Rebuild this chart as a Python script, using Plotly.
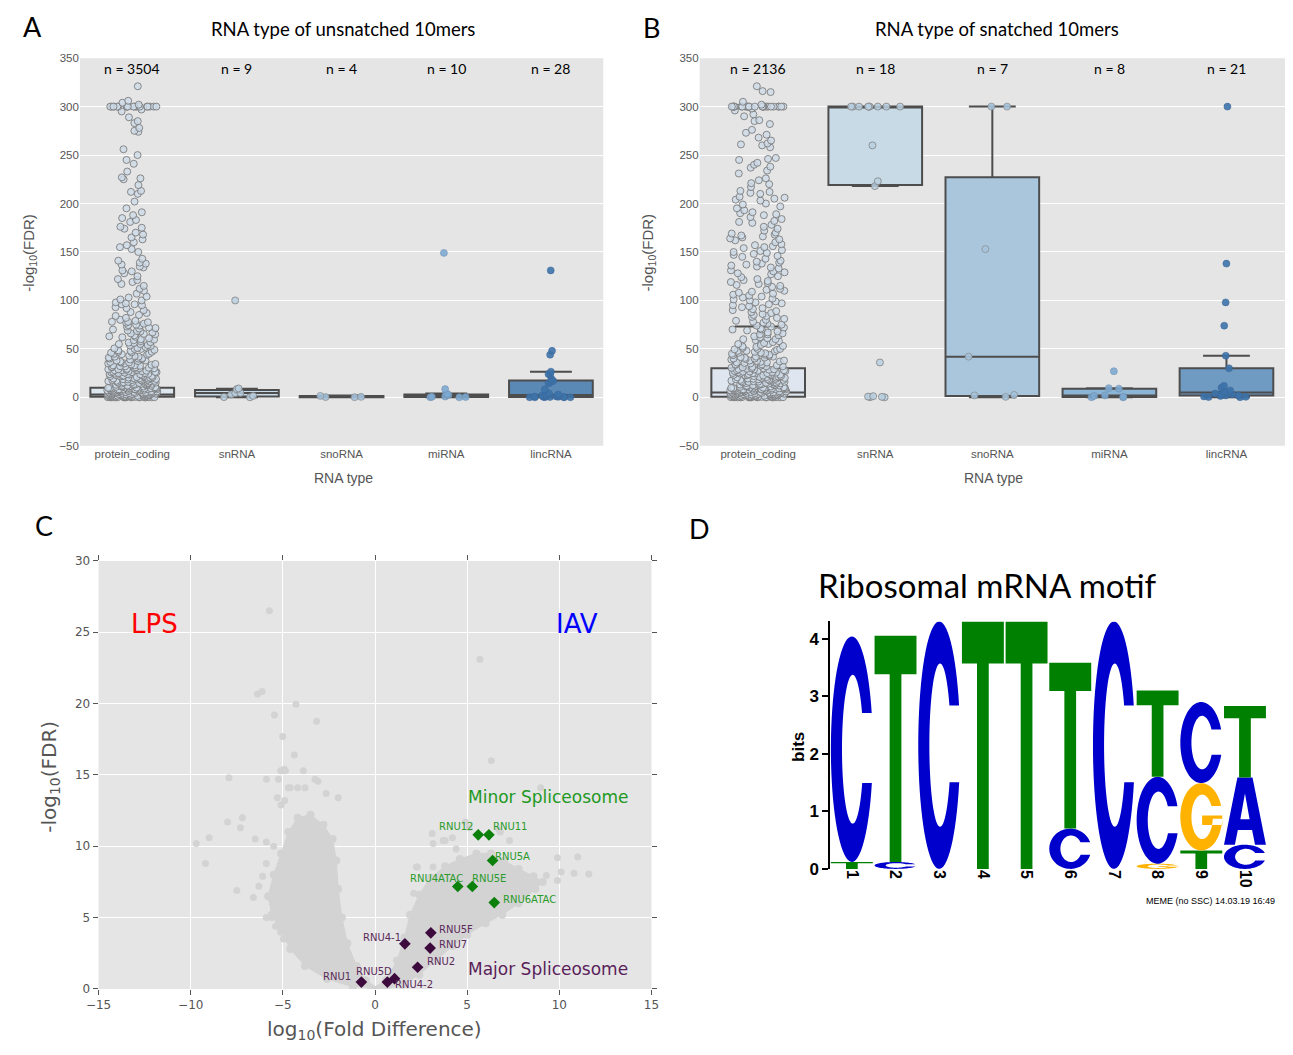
import math
import plotly.graph_objects as go

W, H = 1293, 1055

# ---------------- DATA ----------------
categories = ["protein_coding", "snRNA", "snoRNA", "miRNA", "lincRNA"]
n_unsnatched = [3504, 9, 4, 10, 28]
n_snatched = [2136, 18, 7, 8, 21]

# Panel A box statistics
a_q1 = [0.5, 1.0, 0.0, 0.3, 0.3]
a_median = [3.0, 4.5, 1.0, 1.5, 2.5]
a_q3 = [10.0, 7.5, 1.5, 3.0, 17.5]
a_lower = [0.0, 0.0, 0.0, 0.0, 0.0]
a_upper = [25.0, 9.0, 2.0, 4.0, 26.5]

# Panel B box statistics
b_q1 = [0.5, 219.0, 1.5, 0.3, 2.0]
b_median = [5.0, 300.0, 42.0, 2.0, 5.0]
b_q3 = [30.0, 300.0, 227.0, 9.0, 30.0]
b_lower = [0.0, 218.0, 0.0, 0.0, 0.0]
b_upper = [73.0, 300.0, 300.0, 9.5, 43.0]

# Panel A points
a_pc_high = [321, 306, 304, 302, 300, 300, 300, 300, 300, 300, 300, 300, 300, 300, 300, 300, 300, 300,
             300, 300, 300, 300, 297, 295, 289, 285, 283, 278, 275, 274, 256, 250, 245, 241, 233, 227,
             226, 225, 219, 213, 212, 210, 202, 195, 191, 188, 185, 183, 181, 176, 175, 174, 170, 168,
             165, 163, 160, 157, 155, 153, 150, 143, 141, 139, 138, 137, 135, 134, 131, 130, 128, 125,
             122, 121, 119, 117, 115, 112, 110, 107, 104, 103, 101, 100]
a_pc_low = [98, 97, 96, 96, 95, 93, 92, 90, 88, 87, 85, 84, 82, 80, 79, 78, 78, 77, 76, 75, 74, 73, 72,
            71, 70, 69, 68, 67, 66, 65, 64, 63, 62, 61, 60, 59, 58, 57, 56, 55, 55, 54, 53, 52, 51, 50,
            50, 49, 48, 47, 47, 46, 45, 45, 44, 43, 42, 42, 41, 40, 40, 39, 38, 38, 37, 36, 36, 35, 35,
            34, 33, 33, 32, 31, 31, 30, 30, 29, 29, 28, 28, 27, 27, 26, 26, 25, 25, 24, 24, 23, 23, 22,
            22, 21, 21, 20, 20, 19, 19, 18, 18, 17, 17, 16, 16, 15, 15, 14, 14, 13, 13, 12, 12, 11, 11,
            10, 10, 9.5, 9, 9, 8.5, 8, 8, 7.5, 7, 7, 6.5, 6, 6, 5.5, 5, 5, 4.5, 4, 4, 3.5, 3, 3, 2.5,
            2, 2, 1.5, 1, 1, 0.5, 0.5, 0.2, 0.1, 0, 0, 0, 0, 0.3, 0.8, 1.2, 1.8, 2.2, 2.8, 3.3, 3.8,
            4.2, 4.8, 5.2, 5.8, 6.2, 6.8, 7.2, 7.8, 8.2, 8.8, 9.2, 9.8, 10.5, 11.5, 12.5, 13.5, 14.5,
            15.5, 16.5, 17.5, 18.5, 19.5, 21.5, 23.5, 25.5]
a_pc_dense = [77.5, 74.5, 71.5, 68.5, 65.5, 62.5, 59.5, 56.5, 53.5, 50.5, 48.5, 46.5, 44.5, 42.5, 40.5,
              39.5, 37.5, 36.5, 34.5, 33.5, 32.5, 31.5, 30.5, 29.5, 28.5, 27.5, 26.5, 25.8, 24.5, 23.8,
              22.5, 21.8, 20.5, 19.8, 18.8, 17.8, 16.8, 15.8, 14.8, 13.8, 12.8, 11.8, 10.8, 10.2, 9.6,
              9.1, 8.6, 8.1, 7.6, 7.1, 6.6, 6.1, 5.6, 5.1, 4.6, 4.1, 3.6, 3.1, 2.6, 2.1, 1.6, 1.1, 0.6,
              0.4, 0.2, 0.1, 0, 0, 0, 0, 0, 0, 0.05, 0.15, 0.25, 0.35, 0.45, 0.7, 0.9, 1.3, 1.7, 2.3,
              2.7, 3.2, 3.7, 4.3, 4.7, 5.3, 5.7, 6.3, 6.7, 7.3, 7.7, 8.3, 8.7, 9.3, 9.7, 11.2, 12.2,
              13.2, 14.2, 15.2, 16.2, 17.2, 18.2, 19.2, 20.2, 22.2, 24.2, 26.2, 28.2, 30.2, 32.2]
a_snrna = [100, 8.4, 9.2, 4.6, 4.3, 3.0, 0.1, 0.3, 1.5]
a_snorna = [0.2, 1.5, 0.5, 0.3]
a_mirna = [149, 8.5, 0.2, 0.5, 2.5, 3.0, 3.5, 0.8, 0.3, 0.1]
a_lincrna = [131, 48, 44, 26.5, 24, 23, 19, 17, 16, 14.5, 8, 4, 3, 2.5, 2, 1.5, 1.2, 1, 0.8, 0.6,
             0.5, 0.4, 0.3, 0.2, 0.1, 0.1, 0, 0]

# Panel B points
b_pc_high = [321, 316, 315, 305, 302, 300, 300, 300, 300, 300, 300, 300, 300, 300, 300, 300, 300, 300,
             300, 300, 300, 300, 300, 300, 300, 300, 300, 300, 300, 300, 298, 296, 292, 290, 286, 285,
             282, 276, 273, 271, 268, 265, 262, 261, 260, 258, 247, 246, 245, 242, 240, 238, 237, 234,
             231, 226, 224, 221, 220, 217, 213, 212, 211, 210, 207, 206, 205, 204, 203, 200, 199, 197,
             195, 193, 191, 190, 189, 188, 186, 184, 182, 181, 180, 178, 176, 174, 172, 170, 169, 168,
             167, 166, 165, 164, 163, 162, 160, 158, 157, 156, 155, 154, 152, 151, 150, 149, 148, 147,
             146, 145, 143, 141, 140, 139, 138, 137, 136, 135, 134, 133, 131, 130, 129, 128, 127, 125,
             124, 122, 121, 120, 119, 118, 117, 116, 115, 114, 112, 111, 110, 109, 108, 107, 106, 105,
             104, 103, 102, 101, 100]
b_pc_low = [99, 98, 97, 96, 95, 94, 93, 92, 91, 90, 89, 88, 87, 86, 85, 84, 83, 82, 81, 80, 79, 78, 77,
            76, 75, 74, 73, 72, 71, 70, 70, 69, 68, 67, 66, 65, 65, 64, 63, 62, 61, 60, 60, 59, 58, 57,
            56, 55, 55, 54, 53, 52, 51, 50, 50, 49, 48, 48, 47, 46, 46, 45, 44, 44, 43, 42, 42, 41, 40,
            40, 39, 38, 38, 37, 36, 36, 35, 34, 34, 33, 32, 32, 31, 30, 30, 29, 28, 28, 27, 26, 26, 25,
            25, 24, 24, 23, 23, 22, 22, 21, 21, 20, 20, 19, 19, 18, 18, 17, 17, 16, 16, 15, 15, 14, 14,
            13, 13, 12, 12, 11, 11, 10, 10, 9.5, 9, 9, 8.5, 8, 8, 7.5, 7, 7, 6.5, 6, 6, 5.5, 5, 5, 4.5,
            4, 4, 3.5, 3, 3, 2.5, 2, 2, 1.5, 1, 1, 0.5, 0.5, 0.2, 0.1, 0, 0, 0, 0, 0.3, 0.8, 1.2, 1.8,
            2.2, 2.8, 3.3, 3.8, 4.2, 4.8, 5.2, 5.8, 6.2, 6.8, 7.2, 7.8, 8.2, 8.8, 9.2, 9.8, 10.5, 11.5,
            12.5, 13.5, 14.5, 15.5, 16.5, 17.5, 18.5, 19.5, 21.5, 23.5, 25.5, 27.5, 29.5]
b_pc_dense = [52.5, 49.5, 47.5, 45.5, 43.5, 41.5, 39.5, 37.5, 35.5, 33.5, 31.5, 30.5, 29.2, 28.5, 27.2,
              26.5, 25.2, 24.5, 23.2, 22.5, 21.2, 20.5, 19.2, 18.2, 17.2, 16.2, 15.2, 14.2, 13.2, 12.2,
              11.2, 10.8, 10.2, 9.6, 9.1, 8.6, 8.1, 7.6, 7.1, 6.6, 6.1, 5.6, 5.1, 4.6, 4.1, 3.6, 3.1,
              2.6, 2.1, 1.6, 1.1, 0.6, 0.4, 0.2, 0.1, 0, 0, 0, 0, 0, 0, 0.05, 0.15, 0.25, 0.35, 0.45,
              0.7, 0.9, 1.3, 1.7, 2.3, 2.7, 3.2, 3.7, 4.3, 4.7, 5.3, 5.7, 6.3, 6.7, 7.3, 7.7, 8.3, 8.7,
              9.3, 9.7, 12.7, 14.7, 16.7, 18.7, 20.7, 22.7, 24.7, 26.7, 28.7, 32.7, 36.7, 40.7]
b_snrna = [300, 300, 300, 300, 300, 300, 300, 300, 300, 260, 223, 218, 36, 1.2, 0.5, 0.8, 0.2, 0.0]
b_snorna = [300, 300, 153, 42, 2.0, 2.5, 0.5]
b_mirna = [27, 9, 9.5, 2, 1.5, 0.5, 0.2, 0.0]
b_lincrna = [300, 138, 98, 74, 43, 30, 12, 10, 7, 6, 5, 4, 3, 3, 2, 2, 1.5, 1, 0.5, 0.3, 0.2]

# Panel C: volcano plot
cloud_left_x = [0.2, -0.5, -1.0, -1.5, -1.8, -2.0, -2.1, -2.3, -2.8, -3.5, -4.2, -4.7, -5.1, -5.5, -5.8,
                -5.6, -5.1, -4.6, -3.8, -2.6, -1.2]
cloud_left_y = [0.0, 0.6, 1.6, 3.2, 5.0, 7.0, 9.0, 10.5, 11.5, 12.2, 12.0, 11.0, 9.5, 8.0, 6.5,
                5.2, 4.0, 2.8, 1.6, 0.7, 0.15]
cloud_right_x = [-0.2, 0.6, 1.2, 1.6, 1.9, 2.4, 3.0, 3.8, 4.6, 5.5, 6.3, 7.0, 7.8, 8.6, 9.1, 8.7, 7.8,
                 6.9, 6.0, 5.0, 4.2, 3.3, 2.4, 1.5, 0.6]
cloud_right_y = [0.0, 0.6, 2.0, 3.6, 5.2, 6.6, 7.8, 8.6, 9.1, 9.5, 9.5, 9.0, 8.4, 7.9, 7.5, 7.0, 6.0,
                 5.2, 4.6, 3.8, 3.0, 2.0, 1.0, 0.3, 0.0]
scatter_x = [-5.73, -6.13, -6.38, -4.29, -5.46, -3.17, -5.01, -4.38, 5.69, 6.31, -7.93, -5.89, -5.24, -5.12,
             -4.92, -3.89, -3.26, -3.10, 8.99, -4.96, -4.86, -4.7, -4.6, -4.2, -3.8, -2.65, -2.0, -5.3,
             -5.1, -4.9, -8.0, -7.2, -7.3, -9.7, -9.0, -9.2, -6.5, -5.9, -5.5, -7.5, -6.6, -6.3, -6.1,
             -5.9, -5.9, -5.6, -5.4, -4.97, 3.1, 3.15, 4.2, 3.7, 2.25, 3.15, 2.1, 3.8, 4.4, 5.1, 4.9, 7.3,
             6.8, 6.7, 5.7, 5.4, 9.9, 11.0, 10.1, 10.8, 11.6, 9.3, 9.9, 2.3]
scatter_y = [26.5, 20.85, 20.67, 19.95, 19.2, 18.76, 17.7, 16.4, 23.1, 16.0, 14.8, 14.7, 14.7, 15.3,
             15.4, 15.3, 14.7, 14.55, 14.1, 15.3, 15.3, 14.1, 14.1, 14.1, 14.1, 13.7, 13.4, 13.4, 12.9,
             13.2, 11.7, 12.0, 11.3, 10.2, 10.6, 8.8, 10.5, 10.3, 10.0, 6.9, 6.4, 7.2, 7.9, 8.8, 5.0, 5.0,
             4.4, 3.5, 10.9, 10.2, 10.6, 10.4, 8.55, 8.55, 6.7, 10.4, 9.8, 11.3, 11.7, 10.4, 11.0, 11.2,
             9.3, 9.2, 9.2, 9.25, 8.2, 8.1, 8.05, 7.95, 7.6, 8.55]
minor_names = ["RNU12", "RNU11", "RNU5A", "RNU4ATAC", "RNU5E", "RNU6ATAC"]
minor_x = [5.6, 6.18, 6.38, 4.49, 5.28, 6.47]
minor_y = [10.8, 10.8, 9.0, 7.18, 7.18, 6.05]
major_names = ["RNU5F", "RNU7", "RNU4-1", "RNU2", "RNU1", "RNU5D", "RNU4-2"]
major_x = [3.03, 2.99, 1.62, 2.31, -0.74, 0.67, 1.06]
major_y = [3.93, 2.86, 3.16, 1.52, 0.48, 0.48, 0.72]

# Panel D: sequence logo (letters bottom -> top, heights in bits)
logo_positions = [1, 2, 3, 4, 5, 6, 7, 8, 9, 10]
logo_letters = [["T", "C"], ["C", "T"], ["C"], ["T"], ["T"], ["C", "T"], ["C"], ["G", "C", "T"],
                ["T", "G", "C"], ["C", "A", "T"]]
logo_heights = [[0.12, 3.92], [0.12, 3.93], [4.3], [4.3], [4.3], [0.7, 2.88], [4.3], [0.09, 1.51, 1.5],
                [0.32, 1.17, 1.41], [0.42, 1.17, 1.24]]

# ---------------- STYLE ----------------
BG = "#e5e5e5"
GREY_TXT = "#555555"
CAL = "Lato, Open Sans, sans-serif"
TICKF = "Liberation Sans, Arial, sans-serif"
a_box_colors = ["#dde5ee", "#c9dbe8", "#aac6dc", "#8fb4d3", "#5a89b6"]
b_box_colors = ["#dfe6ef", "#c8dae6", "#a9c6dc", "#8cb4d4", "#6f9bc3"]
pt_colors = ["rgba(205,219,232,0.8)", "rgba(185,208,226,0.85)", "rgba(165,195,220,0.9)",
             "rgba(125,170,210,0.9)", "rgba(60,115,170,0.9)"]
pt_lines = ["rgba(120,120,120,0.85)", "rgba(130,130,130,0.8)", "rgba(130,130,130,0.6)",
            "rgba(110,140,170,0.5)", "rgba(60,100,150,0.5)"]
letter_colors = {"C": "#0000CC", "T": "#008000", "G": "#FFB300", "A": "#0000CC"}
minor_dx = [-22, 21, 20, -21, 17, 35]
minor_dy = [8, 8, 4, 8, 8, 3]
major_dx = [25, 23, -23, 23, -24, -13, 19]
major_dy = [3, 4, 6, 6, 6, 11, -6]

fig = go.Figure()

def px2fx(px):
    return px / W

def py2fy(py):
    return 1 - py / H

dom = {
    "A": ([68 / W, 600 / W], [py2fy(446), py2fy(52)]),
    "B": ([698 / W, 1.0], [py2fy(446), py2fy(52)]),
    "C": ([87 / W, 649 / W], [py2fy(998), py2fy(563)]),
    "D": ([830.5 / W, 1274.5 / W], [py2fy(876), py2fy(624.5)]),
}

def add_box_panel(xa, ya, q1, med, q3, lo, up, box_cols, point_sets):
    for i, cat in enumerate(categories):
        fig.add_trace(go.Box(
            x=[cat], q1=[q1[i]], median=[med[i]], q3=[q3[i]], lowerfence=[lo[i]], upperfence=[up[i]],
            xaxis=xa, yaxis=ya, fillcolor=box_cols[i], line=dict(color="#4d4d4d", width=2),
            width=0.8, whiskerwidth=0.5, boxpoints=False, showlegend=False, hoverinfo="skip"))
    for i, cat in enumerate(categories):
        vals = point_sets[i]
        fig.add_trace(go.Box(
            x=[cat] * len(vals), y=vals, xaxis=xa, yaxis=ya, boxpoints="all", jitter=0.6, pointpos=0,
            width=0.8, fillcolor="rgba(0,0,0,0)", line=dict(width=0, color="rgba(0,0,0,0)"),
            marker=dict(size=7, color=pt_colors[i], line=dict(color=pt_lines[i], width=1)),
            showlegend=False, hoverinfo="skip"))

add_box_panel("x", "y", a_q1, a_median, a_q3, a_lower, a_upper, a_box_colors,
              [a_pc_high + a_pc_low + a_pc_dense, a_snrna, a_snorna, a_mirna, a_lincrna])
add_box_panel("x2", "y2", b_q1, b_median, b_q3, b_lower, b_upper, b_box_colors,
              [b_pc_high + b_pc_low + b_pc_dense, b_snrna, b_snorna, b_mirna, b_lincrna])

CLOUD = "#d3d3d3"
for cx, cy in [(cloud_left_x, cloud_left_y), (cloud_right_x, cloud_right_y)]:
    fig.add_trace(go.Scatter(x=cx, y=cy, xaxis="x3", yaxis="y3", mode="lines+markers", fill="toself",
                             fillcolor=CLOUD, line=dict(color=CLOUD, width=1),
                             marker=dict(size=8, color=CLOUD), showlegend=False, hoverinfo="skip"))
fig.add_trace(go.Scatter(x=scatter_x, y=scatter_y, xaxis="x3", yaxis="y3", mode="markers",
                         marker=dict(size=7, color=CLOUD), showlegend=False, hoverinfo="skip"))
fig.add_trace(go.Scatter(x=minor_x, y=minor_y, xaxis="x3", yaxis="y3", mode="markers",
                         marker=dict(symbol="diamond", size=9, color="#0b800b"),
                         showlegend=False, hoverinfo="skip"))
fig.add_trace(go.Scatter(x=major_x, y=major_y, xaxis="x3", yaxis="y3", mode="markers",
                         marker=dict(symbol="diamond", size=9, color="#3d0a3d"),
                         showlegend=False, hoverinfo="skip"))

def ellipse_arc(cx, cy, rx, ry, t0, t1, n):
    return [(cx + rx * math.cos(t0 + (t1 - t0) * k / (n - 1)),
             cy + ry * math.sin(t0 + (t1 - t0) * k / (n - 1))) for k in range(n)]

def glyph_c(top=0.66, bot=0.35):
    to1 = math.asin((top - 0.5) / 0.5)
    to2 = 2 * math.pi + math.asin((bot - 0.5) / 0.5)
    outer = ellipse_arc(0.5, 0.5, 0.5, 0.5, to1, to2, 70)
    ti1 = math.asin(max(-1, min(1, (top - 0.5) / 0.33)))
    ti2 = 2 * math.pi + math.asin(max(-1, min(1, (bot - 0.5) / 0.33)))
    inner = ellipse_arc(0.52, 0.5, 0.255, 0.33, ti2, ti1, 60)
    return [outer + inner]

def glyph_g():
    polys = glyph_c(0.66, 0.47)
    polys.append([(0.52, 0.38), (1.0, 0.38), (1.0, 0.52), (0.52, 0.52)])
    return polys

def glyph_t():
    return [[(0.36, 0), (0.64, 0), (0.64, 0.83), (1, 0.83), (1, 1), (0, 1), (0, 0.83), (0.36, 0.83)]]

def glyph_a():
    return [[(0, 0), (0.32, 1), (0.68, 1), (1, 0), (0.74, 0), (0.67, 0.22), (0.33, 0.22), (0.26, 0)],
            [(0.61, 0.38), (0.5, 0.76), (0.39, 0.38)]]

glyphs = {"C": glyph_c, "G": glyph_g, "T": glyph_t, "A": glyph_a}

shapes = []
for xr, yr in [("x", "y"), ("x2", "y2"), ("x3", "y3")]:
    shapes.append(dict(type="rect", xref=xr + " domain", yref=yr + " domain", x0=0, x1=1, y0=0, y1=1,
                       fillcolor=BG, line=dict(width=0), layer="below"))

for pos, letters, heights in zip(logo_positions, logo_letters, logo_heights):
    base = 0.0
    for let, h in zip(letters, heights):
        x0 = pos - 0.48
        wdt = 0.96
        path = ""
        for poly in glyphs[let]():
            pts = [(x0 + wdt * u, base + h * v) for (u, v) in poly]
            path += "M " + " L ".join(f"{a:.4f},{b:.4f}" for a, b in pts) + " Z "
        shapes.append(dict(type="path", xref="x4", yref="y4", path=path.strip(),
                           fillcolor=letter_colors[let], line=dict(width=0), layer="above"))
        base += h

def box_axes(xa_dom, ya_dom):
    xaxis = dict(domain=xa_dom, type="category", categoryorder="array", categoryarray=categories,
                 range=[-0.5, 4.5], showgrid=False, zeroline=False, showline=False, ticks="",
                 tickfont=dict(family=TICKF, size=11.5, color=GREY_TXT))
    yaxis = dict(domain=ya_dom, range=[-50, 350], tickvals=[-50, 0, 50, 100, 150, 200, 250, 300, 350],
                 showgrid=True, gridcolor="white", gridwidth=1.3, zeroline=False, showline=False, ticks="",
                 tickfont=dict(family=TICKF, size=11.5, color=GREY_TXT))
    return xaxis, yaxis

xa, ya = box_axes(*dom["A"])
xb, yb = box_axes(*dom["B"])
ya["anchor"] = "x"
xa["anchor"] = "y"
yb["anchor"] = "x2"
xb["anchor"] = "y2"

xc = dict(domain=dom["C"][0], anchor="y3", range=[-15, 15], dtick=5, showgrid=True, gridcolor="white",
          gridwidth=1, zeroline=False, showline=False, ticks="outside", ticklen=5, tickcolor=GREY_TXT,
          mirror="ticks", tickfont=dict(family="DejaVu Sans", size=12, color=GREY_TXT))
yc = dict(domain=dom["C"][1], anchor="x3", range=[0, 30], dtick=5, showgrid=True, gridcolor="white",
          gridwidth=1, zeroline=False, showline=False, ticks="outside", ticklen=5, tickcolor=GREY_TXT,
          mirror="ticks", tickfont=dict(family="DejaVu Sans", size=12, color=GREY_TXT))

xd = dict(domain=dom["D"][0], anchor="y4", range=[0.5, 10.5], tickvals=logo_positions,
          ticktext=[str(p) for p in logo_positions], tickangle=90, showgrid=False, zeroline=False,
          showline=False, ticks="",
          tickfont=dict(family="Liberation Sans, Arial", size=16, color="black", weight="bold"))
yd = dict(domain=dom["D"][1], anchor="x4", range=[0, 4.3], tickvals=[0, 1, 2, 3, 4], showgrid=False,
          zeroline=False, showline=True, linecolor="black", linewidth=1.5, ticks="outside", ticklen=6,
          tickwidth=1.5, tickcolor="black",
          tickfont=dict(family="Liberation Sans, Arial", size=17, color="black", weight="bold"))

ann = []
def pann(text, px, py, size, color="black", family=CAL, angle=0, weight="normal"):
    ann.append(dict(text=text, x=px2fx(px), y=py2fy(py), xref="paper", yref="paper", showarrow=False,
                    xanchor="center", yanchor="middle", textangle=angle,
                    font=dict(size=size, color=color, family=family, weight=weight)))

pann("A", 20, 20, 27)
pann("B", 649, 21, 27)
pann("C", 32, 527, 27)
pann("D", 698, 530, 27)
pann("RNA type of unsnatched 10mers", 335, 22, 18.5)
pann("RNA type of snatched 10mers", 1000, 22, 18.5)
pann("RNA type", 336, 479, 14, GREY_TXT, TICKF)
pann("RNA type", 997, 479, 14, GREY_TXT, TICKF)
pann("-log<sub>10</sub>(FDR)", 17, 250, 15, GREY_TXT, TICKF, -90)
pann("-log<sub>10</sub>(FDR)", 646, 250, 15, GREY_TXT, TICKF, -90)
pann("-log<sub>10</sub>(FDR)", 38, 782, 20, GREY_TXT, "DejaVu Sans", -90)
pann("log<sub>10</sub>(Fold Difference)", 367, 1040, 20, GREY_TXT, "DejaVu Sans")
pann("Ribosomal mRNA motif", 991, 587, 33)
pann("bits", 799, 752, 17, "black", "Liberation Sans, Arial", -90, "bold")
pann("MEME (no SSC) 14.03.19 16:49", 1217, 909, 9, "black", "Liberation Sans, Arial")

for i, cat in enumerate(categories):
    ann.append(dict(text=f"n = {n_unsnatched[i]}", x=cat, y=339, xref="x", yref="y", showarrow=False,
                    font=dict(size=14, color="black", family=CAL)))
    ann.append(dict(text=f"n = {n_snatched[i]}", x=cat, y=339, xref="x2", yref="y2", showarrow=False,
                    font=dict(size=14, color="black", family=CAL)))

for names, xs, ys, dxs, dys, col in [(minor_names, minor_x, minor_y, minor_dx, minor_dy, "#2a9a2a"),
                                     (major_names, major_x, major_y, major_dx, major_dy, "#5a2a5a")]:
    for nm, x, y, dx, dy in zip(names, xs, ys, dxs, dys):
        ann.append(dict(text=nm, x=x, y=y, xref="x3", yref="y3", showarrow=False, xshift=dx, yshift=dy,
                        font=dict(size=10, color=col, family="DejaVu Sans")))

for txt, x, y, col, sz in [("LPS", -11.96, 25.6, "red", 26), ("IAV", 10.95, 25.6, "blue", 26),
                           ("Minor Spliceosome", 9.4, 13.44, "#229922", 17),
                           ("Major Spliceosome", 9.4, 1.41, "#5a1e5a", 17)]:
    ann.append(dict(text=txt, x=x, y=y, xref="x3", yref="y3", showarrow=False,
                    font=dict(size=sz, color=col, family="DejaVu Sans")))

fig.update_layout(
    width=W, height=H, margin=dict(l=0, r=0, t=0, b=0), paper_bgcolor="white", plot_bgcolor="white",
    boxmode="overlay", showlegend=False,
    xaxis=xa, yaxis=ya, xaxis2=xb, yaxis2=yb, xaxis3=xc, yaxis3=yc, xaxis4=xd, yaxis4=yd,
    shapes=shapes, annotations=ann,
)

post = ("document.documentElement.style.margin='0';document.body.style.margin='0';"
        "document.body.style.padding='0';document.documentElement.style.overflow='hidden';"
        "var gds=document.getElementsByClassName('plotly-graph-div');"
        "for(var i=0;i<gds.length;i++){gds[i].style.position='fixed';gds[i].style.left='0px';"
        "gds[i].style.top='0px';}")
fig.write_html("out.html", post_script=post)
